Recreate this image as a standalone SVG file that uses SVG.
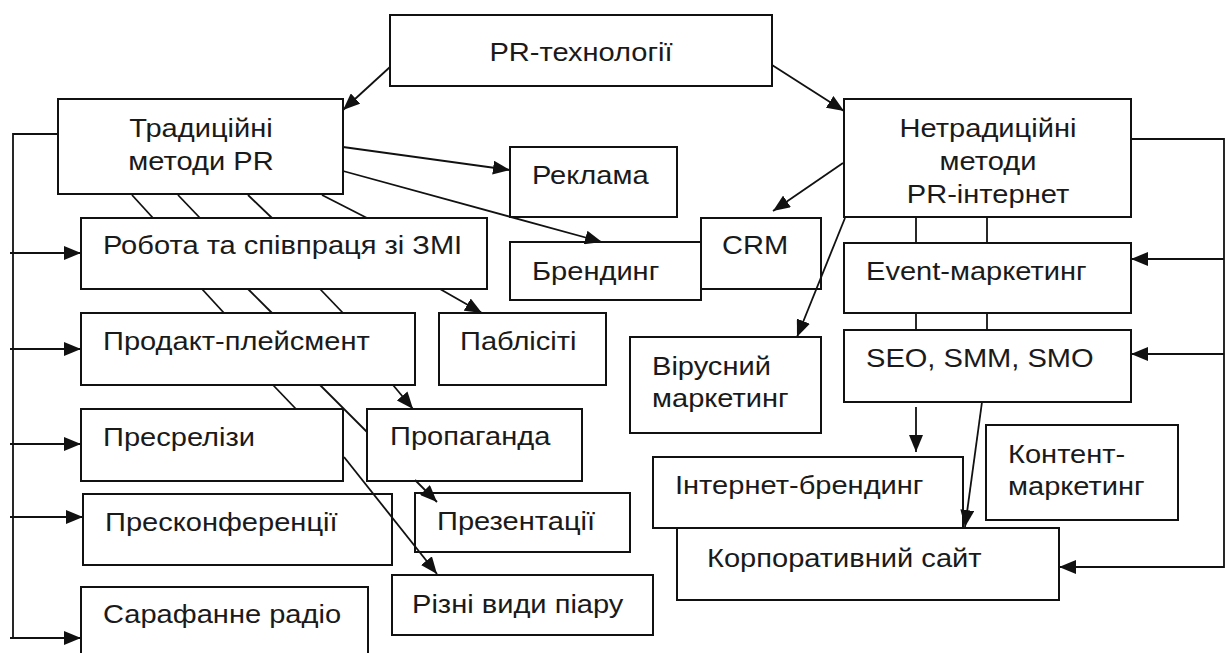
<svg xmlns="http://www.w3.org/2000/svg" width="1227" height="653" viewBox="0 0 1227 653">
<style>
.b{fill:#fff;stroke:#111;stroke-width:2}
.t{font-family:"Liberation Sans",Arial,sans-serif;font-size:25.5px;fill:#1a1a1a}
.m{text-anchor:middle}
.c{fill:none;stroke:#111;stroke-width:1.8}
.a{marker-end:url(#ah)}
</style>
<defs>
<marker id="ah" viewBox="0 0 17 14" refX="17" refY="7" markerWidth="17" markerHeight="14" markerUnits="userSpaceOnUse" orient="auto">
<path d="M0,0 L17,7 L0,14 z" fill="#111"/>
</marker>
</defs>
<rect width="1227" height="653" fill="#fff"/>

<g id="n-pr"><rect class="b" x="390" y="15" width="382" height="71"/><text class="t m" transform="translate(581,61) scale(1.14,1)">PR-технології</text></g>
<g id="n-trad"><rect class="b" x="58" y="99" width="285" height="95"/><text class="t m" transform="translate(201,137) scale(1.14,1)">Традиційні</text><text class="t m" transform="translate(201,170) scale(1.14,1)">методи PR</text></g>
<g id="n-netrad"><rect class="b" x="844" y="99" width="287" height="118"/><text class="t m" transform="translate(988,137) scale(1.14,1)">Нетрадиційні</text><text class="t m" transform="translate(988,170) scale(1.14,1)">методи</text><text class="t m" transform="translate(988,203) scale(1.14,1)">PR-інтернет</text></g>
<g id="n-reklama"><rect class="b" x="510" y="147" width="167" height="70"/><text class="t" transform="translate(532,184) scale(1.14,1)">Реклама</text></g>
<g id="n-robota"><rect class="b" x="81" y="218" width="406" height="71"/><text class="t" transform="translate(103,254) scale(1.14,1)">Робота та співпраця зі ЗМІ</text></g>
<g id="n-crm"><rect class="b" x="701" y="218" width="120" height="71"/><text class="t" transform="translate(722,254) scale(1.14,1)">CRM</text></g>
<g id="n-brend"><rect class="b" x="510" y="242" width="191" height="58"/><text class="t" transform="translate(532,280) scale(1.14,1)">Брендинг</text></g>
<g id="n-event"><rect class="b" x="844" y="243" width="287" height="70"/><text class="t" transform="translate(866,280) scale(1.14,1)">Event-маркетинг</text></g>
<g id="n-prodakt"><rect class="b" x="81" y="313" width="334" height="72"/><text class="t" transform="translate(103,350) scale(1.14,1)">Продакт-плейсмент</text></g>
<g id="n-publ"><rect class="b" x="439" y="313" width="167" height="72"/><text class="t" transform="translate(460,350) scale(1.14,1)">Паблісіті</text></g>
<g id="n-seo"><rect class="b" x="844" y="330" width="287" height="72"/><text class="t" transform="translate(866,367) scale(1.14,1)">SEO, SMM, SMO</text></g>
<g id="n-virus"><rect class="b" x="630" y="337" width="191" height="96"/><text class="t" transform="translate(652,375) scale(1.14,1)">Вірусний</text><text class="t" transform="translate(652,407) scale(1.14,1)">маркетинг</text></g>
<g id="n-presrel"><rect class="b" x="81" y="409" width="262" height="72"/><text class="t" transform="translate(103,446) scale(1.14,1)">Пресрелізи</text></g>
<g id="n-propag"><rect class="b" x="367" y="409" width="215" height="72"/><text class="t" transform="translate(390,445) scale(1.14,1)">Пропаганда</text></g>
<g id="n-kontent"><rect class="b" x="986" y="425" width="192" height="95"/><text class="t" transform="translate(1008,463) scale(1.14,1)">Контент-</text><text class="t" transform="translate(1008,495) scale(1.14,1)">маркетинг</text></g>
<g id="n-inet"><rect class="b" x="653" y="457" width="310" height="71"/><text class="t" transform="translate(675,494) scale(1.14,1)">Інтернет-брендинг</text></g>
<g id="n-present"><rect class="b" x="415" y="493" width="215" height="59"/><text class="t" transform="translate(437,530) scale(1.14,1)">Презентації</text></g>
<g id="n-preskonf"><rect class="b" x="83" y="494" width="309" height="71"/><text class="t" transform="translate(105,531) scale(1.14,1)">Пресконференції</text></g>
<g id="n-korp"><rect class="b" x="677" y="528" width="382" height="72"/><text class="t" transform="translate(707,567) scale(1.14,1)">Корпоративний сайт</text></g>
<g id="n-rizni"><rect class="b" x="392" y="575" width="261" height="60"/><text class="t" transform="translate(412,613) scale(1.14,1)">Різні види піару</text></g>
<g id="n-sarafan"><rect class="b" x="81" y="587" width="287" height="80"/><text class="t" transform="translate(103,623) scale(1.14,1)">Сарафанне радіо</text></g>

<g id="connectors">
<line class="c a" x1="390" y1="67" x2="343" y2="110"/>
<line class="c a" x1="772" y1="65" x2="844" y2="111"/>
<line class="c a" x1="343" y1="147" x2="510" y2="170"/>
<line class="c a" x1="343" y1="171" x2="602" y2="242"/>
<line class="c a" x1="843" y1="163" x2="773" y2="211"/>
<line class="c a" x1="845" y1="218" x2="797" y2="337"/>
<line class="c a" x1="440" y1="289" x2="482" y2="313"/>
<line class="c a" x1="393" y1="385" x2="413" y2="409"/>
<line class="c" x1="320" y1="385" x2="367" y2="432"/>
<line class="c a" x1="415" y1="480" x2="437" y2="502"/>
<line class="c" x1="273" y1="385" x2="296" y2="409"/>
<line class="c a" x1="344" y1="457" x2="437" y2="574"/>
<line class="c" x1="132" y1="195" x2="153" y2="218"/>
<line class="c" x1="178" y1="195" x2="200" y2="218"/>
<line class="c" x1="248" y1="195" x2="272" y2="218"/>
<line class="c" x1="322" y1="195" x2="367" y2="218"/>
<line class="c" x1="202" y1="289" x2="224" y2="313"/>
<line class="c" x1="248" y1="289" x2="272" y2="313"/>
<line class="c" x1="320" y1="289" x2="343" y2="313"/>
<line class="c" x1="916" y1="217" x2="916" y2="243"/>
<line class="c" x1="987" y1="217" x2="987" y2="243"/>
<line class="c" x1="916" y1="313" x2="916" y2="330"/>
<line class="c" x1="987" y1="313" x2="987" y2="330"/>
<line class="c a" x1="916" y1="407" x2="916" y2="452"/>
<line class="c a" x1="982" y1="402" x2="965" y2="527"/>
<polyline class="c" points="58,134 13,134 13,638"/>
<line class="c a" x1="10" y1="253" x2="81" y2="253"/>
<line class="c a" x1="10" y1="349" x2="81" y2="349"/>
<line class="c a" x1="10" y1="444" x2="81" y2="444"/>
<line class="c a" x1="10" y1="517" x2="83" y2="517"/>
<line class="c a" x1="10" y1="638" x2="81" y2="638"/>
<polyline class="c a" points="1131,139 1224,139 1224,567 1059,567"/>
<line class="c a" x1="1224" y1="259" x2="1131" y2="259"/>
<line class="c a" x1="1224" y1="354" x2="1131" y2="354"/>
</g>
</svg>
